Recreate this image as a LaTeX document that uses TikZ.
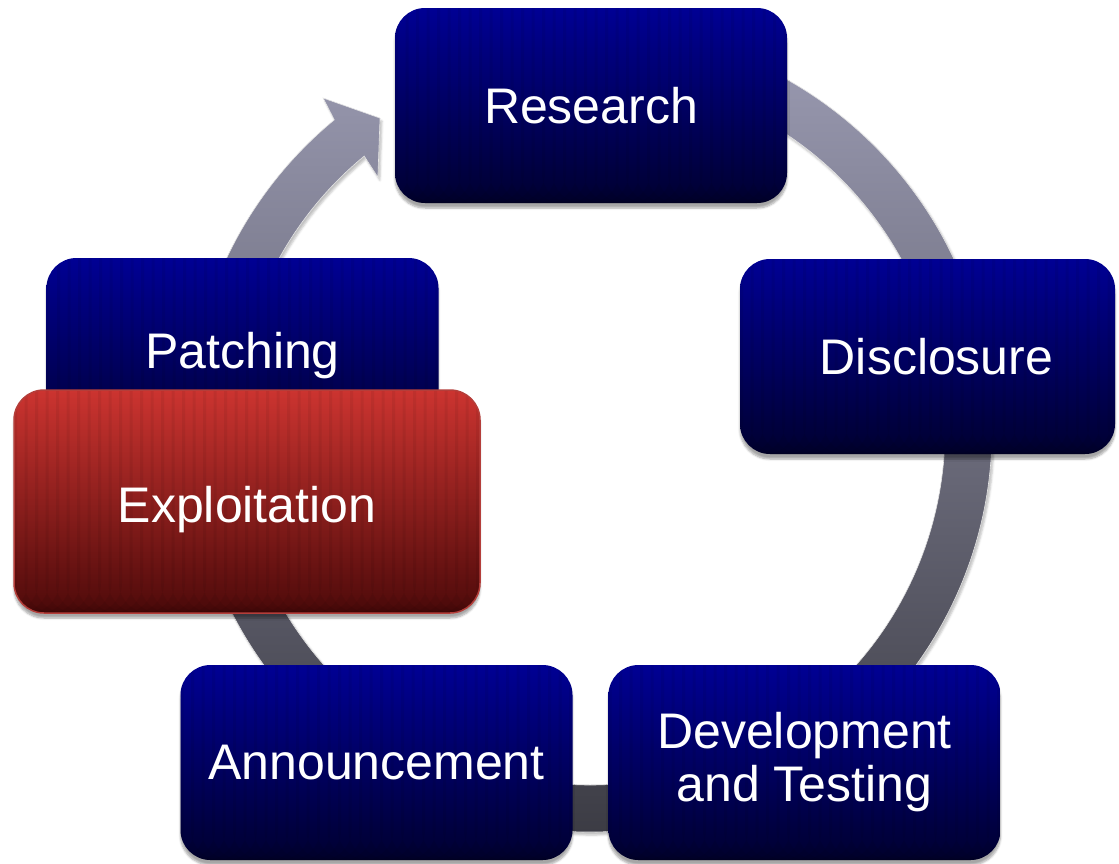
\documentclass[tikz,border=0pt]{standalone}
\usepackage{fontspec}
\setmainfont{Liberation Sans}
\usepackage{tikz}
\usetikzlibrary{shadows.blur}

\definecolor{navytop}{RGB}{0,0,148}
\definecolor{navybot}{RGB}{0,0,48}
\definecolor{redtop}{RGB}{204,52,48}
\definecolor{redbot}{RGB}{78,10,10}
\definecolor{redline}{RGB}{180,62,58}
\definecolor{ringtop}{RGB}{158,158,182}
\definecolor{ringbot}{RGB}{58,58,66}

\begin{document}
\begin{tikzpicture}[x=1pt, y=1pt,
	stage/.style={rounded corners=30pt, minimum width=392pt, minimum height=195pt,
		inner sep=0pt, align=center, text=white,
		font=\fontsize{50}{53}\selectfont,
		top color=navytop, bottom color=navybot,
		blur shadow={shadow xshift=0pt, shadow yshift=-5pt, shadow blur steps=6, shadow opacity=35},
		path picture={
			\foreach \k in {0,...,45}
				\fill[black, opacity=.06] ([xshift=\k*10.5pt]path picture bounding box.south west) rectangle ++(3,300);
		}},
	hot/.style={stage, minimum width=466pt, minimum height=223pt,
		top color=redtop, bottom color=redbot, draw=redline, line width=1.5pt}]
	\useasboundingbox (0,0) rectangle (1119,-863);
	\clip (0,0) rectangle (1119,-863);
	% the cycle ring with its arrow head
	\begin{scope}[shift={(590,-430)}]
		\path[top color=ringtop, bottom color=ringbot, draw=white!80!gray, line width=.6pt,
			blur shadow={shadow xshift=2pt, shadow yshift=-3pt, shadow blur steps=4, shadow opacity=25}]
			(95:402) arc[start angle=95, end angle=-230.5, radius=402pt]
			-- (-231.2:426) -- (-236.05:376) -- (-230:330)
			-- (-230.5:355) arc[start angle=-230.5, end angle=95, radius=355pt] -- cycle;
	\end{scope}
	% the stages
	\node[stage] (n0) at (591,-105.5) {Research};
	\node[stage, minimum width=375pt] (n1) at (927.5,-356.5) {\hspace*{18pt}Disclosure};
	\node[stage] (n2) at (804.5,-762.5) {Development\\and Testing};
	\node[stage] (n3) at (376.5,-762.5) {Announcement};
	\node[stage] (n4) at (242.5,-355.5) {Patching};
	\node[hot] (n5) at (247,-501.5) {\raisebox{-8pt}[\height][\depth]{Exploitation}};
\end{tikzpicture}
\end{document}
